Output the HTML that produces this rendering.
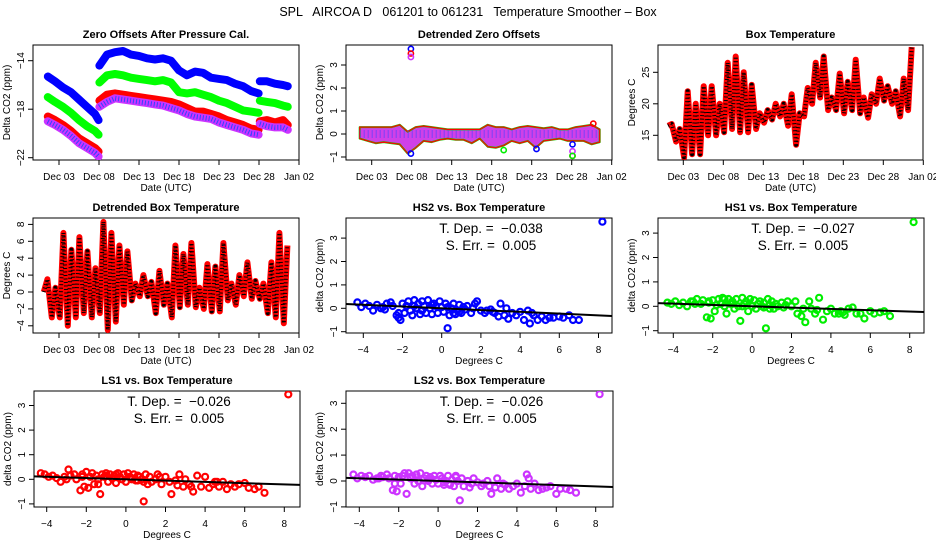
<!DOCTYPE html>
<html><head><meta charset="utf-8"><style>
html,body{margin:0;padding:0;background:#fff}
svg{display:block;font-family:"Liberation Sans",sans-serif}
</style></head><body>
<svg id="chart" width="936" height="540" viewBox="0 0 936 540" xmlns="http://www.w3.org/2000/svg">
<rect width="936" height="540" fill="#fff"/>
<text x="468" y="16" text-anchor="middle" font-size="12.5" style="white-space:pre">SPL   AIRCOA D   061201 to 061231   Temperature Smoother – Box</text>
</svg>
<script>
// ---------- data ----------
const offDays = [1.6,2.5,3.5,4.5,5.5,6.5,7.5,7.95,null,8.05,9,10,11,12,13,14,15,16,17,18,19,20,21,22,23,24,25,26,27,27.95,null,28.1,29,30,31,31.6];
const offHS2 = [-15.3,-15.7,-16.2,-16.6,-17.2,-17.8,-18.4,-18.9,null,-14.4,-13.5,-13.3,-13.2,-13.5,-13.6,-13.8,-13.9,-13.8,-14.0,-14.8,-15.2,-14.9,-15.0,-15.4,-15.5,-15.6,-15.9,-16.1,-16.5,-16.7,null,-15.7,-15.7,-15.9,-16.0,-16.1];
const offHS1 = [-17.0,-17.4,-17.8,-18.3,-18.9,-19.4,-19.8,-20.1,null,-15.8,-15.2,-15.1,-15.2,-15.4,-15.5,-15.6,-15.7,-15.6,-15.8,-16.6,-16.7,-16.6,-16.8,-17.0,-17.3,-17.5,-17.8,-18.1,-18.2,-18.3,null,-17.3,-17.4,-17.5,-17.7,-17.8];
const offLS1 = [-18.6,-18.9,-19.3,-19.8,-20.4,-20.8,-21.2,-21.5,null,-17.3,-16.8,-16.7,-16.8,-16.9,-17.0,-17.1,-17.2,-17.3,-17.4,-17.6,-17.9,-18.2,-18.2,-18.4,-18.6,-18.9,-19.1,-19.3,-19.6,-19.7,null,-19.0,-18.9,-19.1,-18.9,-19.3];
const offLS2 = [-19.0,-19.3,-19.7,-20.2,-20.8,-21.2,-21.6,-21.9,null,-17.8,-17.4,-17.1,-17.2,-17.3,-17.4,-17.5,-17.6,-17.7,-17.9,-18.1,-18.4,-18.6,-18.7,-18.8,-19.1,-19.3,-19.5,-19.7,-20.0,-20.1,null,-19.2,-19.4,-19.5,-19.5,-19.7];

const detDays = [1.5,2.5,3.5,4.5,5.5,6.5,7.5,8.5,9.5,10.5,11.5,12.5,13.5,14.5,15.5,16.5,17.5,18.5,19.5,20.5,21.5,22.5,23.5,24.5,25.5,26.5,27.5,28.5,29.5,30.5,31.5];
const detUpper = [0.3,0.3,0.3,0.3,0.3,0.4,0.1,0.3,0.35,0.3,0.25,0.2,0.2,0.2,0.2,0.2,0.4,0.3,0.3,0.2,0.3,0.35,0.3,0.25,0.3,0.2,0.2,0.3,0.35,0.4,0.2];
const detLower = [-0.2,-0.3,-0.4,-0.35,-0.4,-0.45,-0.85,-0.6,-0.3,-0.35,-0.25,-0.2,-0.25,-0.25,-0.4,-0.2,-0.55,-0.6,-0.5,-0.3,-0.4,-0.3,-0.6,-0.3,-0.25,-0.2,-0.3,-0.3,-0.3,-0.45,-0.35];
const detOutDays = [7.9,7.9,28.1,23.6,7.9,28.1,30.7,7.9,28.1,19.5,28.1];
const detOutVals = [3.7,-0.85,-0.45,-0.65,3.5,-0.95,0.45,3.35,-0.75,-0.7,-0.95];
const detOutCols = ["#0000ff","#0000ff","#0000ff","#0000ff","#ff0000","#ff0000","#ff0000","#cc33ff","#cc33ff","#00ee00","#00ee00"];

const boxMin = [16.5,14,11.5,12,12,15,15,15.5,16,15.5,15.5,16,17,17.5,18,16.5,13.5,18,20,21,19,19,18.5,19,18.5,17.8,20,20.5,20,18,19];
const boxMax = [16.8,16,22,20,22.8,22.8,20,26.5,27.5,25,23,18.5,19,20,20,21.5,18.5,22.5,26.5,27.5,21,24.8,23.5,27,21,21.5,24,22.8,22,24,29];
const dtMin = [0,-3,-3,-4,-3,-2.5,-3,-2.5,-4.5,-3.5,-1.5,-1,-0.5,-0.5,-2.5,-1.5,-3,-1.8,-1.5,-1.8,-2,-2.3,-2.3,-1,-1.5,-0.5,-0.8,-0.8,-2.5,-3,-3.7];
const dtMax = [1.5,0.5,7,5,6.5,4.8,2.8,8.3,7,5.5,4.8,1,2,1.2,2.5,1,5.5,4.5,5.8,0.5,3.3,3,5.8,1,2,3.5,1.3,1,3.5,7,5.5];

const tempX = [-4.3,-4.1,-3.9,-3.7,-3.5,-3.3,-3.1,-2.9,-2.8,-2.6,-2.5,-2.3,-2.2,-2.1,-2.0,-1.9,-1.8,-1.7,-1.6,-1.5,-1.4,-1.3,-1.2,-1.1,-1.0,-0.9,-0.8,-0.7,-0.6,-0.5,-0.4,-0.3,-0.2,-0.1,0.0,0.1,0.2,0.3,0.4,0.5,0.6,0.7,0.8,0.9,1.0,1.1,1.2,1.3,1.5,1.6,1.8,2.0,2.2,2.3,2.5,2.7,2.9,3.0,3.2,3.4,3.6,3.8,4.0,4.2,4.4,4.5,4.7,4.9,5.1,5.3,5.5,5.7,6.0,6.2,6.5,6.7,7.0,8.2,-2.2,-1.4,-0.5,0.3,0.9,1.7,-3.0,-1.0,0.6,2.6,3.3,4.6];
const yHS2 = [0.25,0.05,0.2,0.1,-0.1,0.15,0.0,-0.05,0.2,0.25,0.1,-0.3,-0.4,-0.5,0.2,-0.2,0.1,0.3,-0.1,-0.3,0.35,0.0,0.2,-0.25,0.3,0.1,-0.2,0.35,0.0,-0.25,0.2,0.1,-0.2,0.3,0.05,-0.15,0.2,-0.85,-0.3,0.0,0.2,-0.25,-0.1,0.15,-0.2,0.05,-0.05,0.1,-0.2,0.0,0.3,-0.1,-0.2,-0.1,-0.05,-0.2,-0.35,0.2,-0.3,-0.45,-0.2,-0.3,-0.15,-0.5,-0.1,-0.65,-0.3,-0.5,-0.35,-0.5,-0.4,-0.4,-0.35,-0.4,-0.3,-0.5,-0.5,3.7,-0.2,0.1,0.15,0.05,-0.15,0.2,0.05,-0.1,-0.2,-0.15,0.0,-0.2];
const yHS1 = [0.15,0.1,0.2,0.05,0.15,0.0,0.2,0.1,0.3,0.1,0.25,-0.45,0.2,-0.5,0.25,-0.2,0.05,0.3,0.1,0.35,0.0,-0.3,0.3,0.1,0.2,-0.1,0.3,0.0,-0.6,0.35,0.1,0.2,-0.2,0.3,0.0,0.25,-0.1,0.1,0.2,0.0,0.15,-0.9,0.3,0.05,0.2,-0.1,0.1,0.0,0.15,-0.05,0.2,0.0,0.2,-0.3,-0.4,-0.65,0.2,-0.1,-0.3,0.35,-0.55,-0.2,-0.1,-0.3,-0.3,-0.2,-0.35,-0.1,-0.05,-0.3,-0.3,-0.5,-0.2,-0.3,-0.25,-0.2,-0.4,3.45,0.15,0.3,0.0,0.1,-0.1,0.05,0.2,0.1,-0.05,-0.1,-0.15,-0.25];
const yLS1 = [0.25,0.2,0.1,0.15,0.05,-0.1,0.1,0.4,0.15,0.2,0.0,-0.45,0.2,-0.3,0.3,-0.35,0.1,0.25,-0.2,0.15,0.0,-0.6,0.2,0.1,0.25,-0.1,0.2,0.05,0.15,-0.15,0.25,0.1,0.0,0.2,-0.1,0.25,0.1,0.0,0.2,-0.05,0.15,0.1,0.0,-0.9,0.2,-0.2,0.1,-0.1,0.0,0.2,-0.2,0.1,-0.1,-0.6,-0.05,0.2,-0.3,0.0,-0.2,-0.5,0.15,-0.3,0.1,-0.35,-0.2,-0.1,-0.3,-0.1,-0.4,-0.2,-0.3,-0.2,-0.15,-0.35,-0.4,-0.3,-0.55,3.45,0.1,-0.2,0.2,0.05,-0.1,0.1,0.0,0.15,-0.05,-0.25,-0.3,-0.1];
const yLS2 = [0.25,0.1,0.2,0.15,0.2,0.05,0.1,0.2,0.15,0.25,0.1,-0.35,0.2,-0.4,0.15,-0.1,0.2,0.3,-0.5,0.3,0.1,0.2,-0.1,0.25,0.0,0.3,-0.2,0.1,0.2,0.0,0.15,-0.1,0.2,0.05,-0.1,0.2,0.1,-0.15,0.0,0.2,-0.1,0.05,-0.2,0.15,0.0,-0.75,0.1,-0.2,0.0,-0.25,0.1,-0.05,-0.2,-0.1,0.0,-0.5,-0.25,0.1,-0.3,-0.15,-0.3,-0.2,-0.1,-0.45,-0.2,0.25,-0.3,-0.1,-0.35,-0.3,-0.25,-0.2,-0.5,-0.3,-0.3,-0.35,-0.45,3.35,-0.1,0.15,0.05,-0.05,0.2,-0.1,0.1,0.0,-0.15,-0.2,-0.1,0.1];

const dateTicks = [3,8,13,18,23,28,33];
const dateLabels = ["Dec 03","Dec 08","Dec 13","Dec 18","Dec 23","Dec 28","Jan 02"];
const tempTicks = [-4,-2,0,2,4,6,8];
const slopes = [-0.038,-0.027,-0.026,-0.026];

// ---------- helpers ----------
const svg = document.getElementById('chart');
const NS = 'http://www.w3.org/2000/svg';
function mk(tag, attrs, parent){ const e=document.createElementNS(NS,tag); for(const k in attrs) e.setAttribute(k,attrs[k]); (parent||svg).appendChild(e); return e; }
function txt(s, attrs, parent){ const e=mk('text',attrs,parent); e.textContent=s; return e; }

function panel(name, box, title, xs, ys, xTicks, xLabels, yTicks, xTitle, yTitle){
  const g = mk('g',{});
  
  
  const [L,T,R,B] = box;
  const fr = mk('rect',{x:L,y:T,width:R-L,height:B-T,fill:'none',stroke:'#000','stroke-width':1},g);
  
  
  const t = txt(title,{x:(L+R)/2,y:T-7,'text-anchor':'middle','font-size':11,'font-weight':'bold'},g);
  
  
  const xa = mk('g',{},g);
  
  
  mk('line',{x1:xs(xTicks[0]),x2:xs(xTicks[xTicks.length-1]),y1:B,y2:B,stroke:'#000'},xa);
  xTicks.forEach((v,i)=>{ const x=xs(v); mk('line',{x1:x,x2:x,y1:B,y2:B+5,stroke:'#000'},xa);
    const l=txt(xLabels[i],{x:x,y:B+20,'text-anchor':'middle','font-size':10},xa);
    
     });
  const xt = txt(xTitle,{x:(L+R)/2,y:B+31,'text-anchor':'middle','font-size':10},g);
  
  
  const ya = mk('g',{},g);
  
  
  mk('line',{x1:L,x2:L,y1:ys(yTicks[0]),y2:ys(yTicks[yTicks.length-1]),stroke:'#000'},ya);
  yTicks.forEach(v=>{ const y=ys(v); mk('line',{x1:L-5,x2:L,y1:y,y2:y,stroke:'#000'},ya);
    const l=txt(String(v).replace('-','\u2212'),{x:L-9,y:y,'text-anchor':'middle','font-size':10,transform:`rotate(-90 ${L-9} ${y})`},ya);
    
     });
  const cy=(T+B)/2;
  const yt = txt(yTitle,{x:L-23,y:cy,'text-anchor':'middle','font-size':10,transform:`rotate(-90 ${L-23} ${cy})`},g);
  
  
  const cp = 'clip-'+name;
  const cpe = mk('clipPath',{id:cp},g); mk('rect',{x:L,y:T,width:R-L,height:B-T},cpe);
  const plot = mk('g',{'clip-path':`url(#${cp})`},g);
  
  
  return plot;
}
function polyPts(xsArr, ysArr, xs, ys){
  const segs=[]; let cur=[];
  xsArr.forEach((d,i)=>{ if(d===null||ysArr[i]===null){ if(cur.length) segs.push(cur); cur=[]; } else cur.push(xs(d).toFixed(1)+','+ys(ysArr[i]).toFixed(1)); });
  if(cur.length) segs.push(cur); return segs;
}

// ---------- panel 1: zero offsets ----------
{
  const xs=d=>43+(d-1)*8, ys=v=>60.7+(-14-v)*12.125;
  const p = panel('zero-offsets-panel',[33,45,299,160],'Zero Offsets After Pressure Cal.',xs,ys,dateTicks,dateLabels,[-22,-18,-14],'Date (UTC)','Delta CO2 (ppm)');
  [[offHS2,'#0000ff','hs2'],[offHS1,'#00ff00','hs1'],[offLS1,'#ff0000','ls1'],[offLS2,'#cc33ff','ls2']].forEach(([arr,c,n])=>{
    polyPts(offDays,arr,xs,ys).forEach(s=>{ const pl=mk('polyline',{points:s.join(' '),fill:'none',stroke:c,'stroke-width':8,'stroke-linejoin':'round','stroke-linecap':'round'},p);
      
       });
  });
  polyPts(offDays,offLS2,xs,ys).forEach(s=>{ mk('polyline',{points:s.join(' '),fill:'none',stroke:'#3344ff','stroke-width':5,'stroke-dasharray':'1 2'},p); });
}
// ---------- panel 2: detrended zero offsets ----------
{
  const xs=d=>355.7+(d-1)*8, ys=v=>134-23*v;
  const p = panel('detrended-offsets-panel',[346,45,612,160],'Detrended Zero Offsets',xs,ys,dateTicks,dateLabels,[-1,0,1,2,3],'Date (UTC)','Delta CO2 (ppm)');
  const up = detDays.map((d,i)=>xs(d).toFixed(1)+','+ys(detUpper[i]).toFixed(1));
  const lo = detDays.map((d,i)=>xs(d).toFixed(1)+','+ys(detLower[i]).toFixed(1)).reverse();
  const band = mk('polygon',{points:up.concat(lo).join(' '),fill:'#d040e8',stroke:'#00dd00','stroke-width':2,'stroke-linejoin':'round'},p);
  
  
  mk('polygon',{points:up.concat(lo).join(' '),fill:'none',stroke:'#ff0000','stroke-width':1.2},p);
  mk('polyline',{points:detDays.map(d=>xs(d).toFixed(1)+','+ys(0).toFixed(1)).join(' '),fill:'none',stroke:'#4444ff','stroke-width':8,'stroke-dasharray':'1 3','opacity':0.6},p);
  detOutDays.forEach((d,i)=>{ const c=mk('circle',{cx:xs(d),cy:ys(detOutVals[i]),r:2.6,fill:'none',stroke:detOutCols[i],'stroke-width':1.6},p);
    
     });
}
// ---------- diurnal zigzag helper ----------
function zig(p, mins, maxs, xs, ys, name){
  const pts=[]; mins.forEach((m,i)=>{ const d=i+1; pts.push(xs(d+0.1).toFixed(1)+','+ys(m).toFixed(1)); pts.push(xs(d+0.55).toFixed(1)+','+ys(maxs[i]).toFixed(1)); });
  const pl=mk('polyline',{points:pts.join(' '),fill:'none',stroke:'#ff0000','stroke-width':6,'stroke-linejoin':'round'},p);
  
  
  mk('polyline',{points:pts.join(' '),fill:'none',stroke:'#000','stroke-width':4,'stroke-dasharray':'1 2.5','stroke-linejoin':'round'},p);
}
// ---------- panel 3: box temperature ----------
{
  const xs=d=>667.3+(d-1)*8, ys=v=>72.3+(25-v)*6.3;
  const p = panel('box-temperature-panel',[658,45,923,160],'Box Temperature',xs,ys,dateTicks,dateLabels,[15,20,25],'Date (UTC)','Degrees C');
  zig(p,boxMin,boxMax,xs,ys,'box-temperature-series');
}
// ---------- panel 4: detrended box temperature ----------
{
  const xs=d=>43+(d-1)*8, ys=v=>292-8.45*v;
  const p = panel('detrended-box-temp-panel',[33,218,299,333],'Detrended Box Temperature',xs,ys,dateTicks,dateLabels,[-4,-2,0,2,4,6,8],'Date (UTC)','Degrees C');
  zig(p,dtMin,dtMax,xs,ys,'detrended-box-temp-series');
}
// ---------- scatter panels ----------
function scatter(name, box, title, xs, ys, yv, color, slope){
  const p = panel(name, box, title, xs, ys, tempTicks, tempTicks.map(v=>String(v).replace('-','\u2212')), [-1,0,1,2,3], 'Degrees C', 'delta CO2 (ppm)');
  tempX.forEach((t,i)=>{ const c=mk('circle',{cx:xs(t).toFixed(1),cy:ys(yv[i]).toFixed(1),r:3,fill:'none',stroke:color,'stroke-width':2.2},p);
    
     });
  const ln=mk('line',{x1:xs(-6),y1:ys(slope*-6),x2:xs(10),y2:ys(slope*10),stroke:'#000','stroke-width':2},p);
  
  
  const [L,T,R,B]=box; const cx=(L+R)/2+12;
  const a=txt('T. Dep. =  \u2212'+Math.abs(slope).toFixed(3),{x:cx,y:T+15,'text-anchor':'middle','font-size':13.5,style:'white-space:pre'},svg);
  
  
  const b=txt('S. Err. =  0.005',{x:cx,y:T+32,'text-anchor':'middle','font-size':13.5,style:'white-space:pre'},svg);
  
  
}
scatter('hs2-vs-temp-panel',[346,218,612,333],'HS2 vs. Box Temperature',t=>441.7+19.6*t,v=>308.3-23.4*v,yHS2,'#0000ff',slopes[0]);
scatter('hs1-vs-temp-panel',[658,218,924,333],'HS1 vs. Box Temperature',t=>752.1+19.7*t,v=>306.3-24.4*v,yHS1,'#00ee00',slopes[1]);
scatter('ls1-vs-temp-panel',[34,391,300,507],'LS1 vs. Box Temperature',t=>125.9+19.8*t,v=>479.3-24.6*v,yLS1,'#ff0000',slopes[2]);
scatter('ls2-vs-temp-panel',[346,391,613,507],'LS2 vs. Box Temperature',t=>438.1+19.7*t,v=>481-25.9*v,yLS2,'#cc33ff',slopes[3]);
</script>
</body></html>
